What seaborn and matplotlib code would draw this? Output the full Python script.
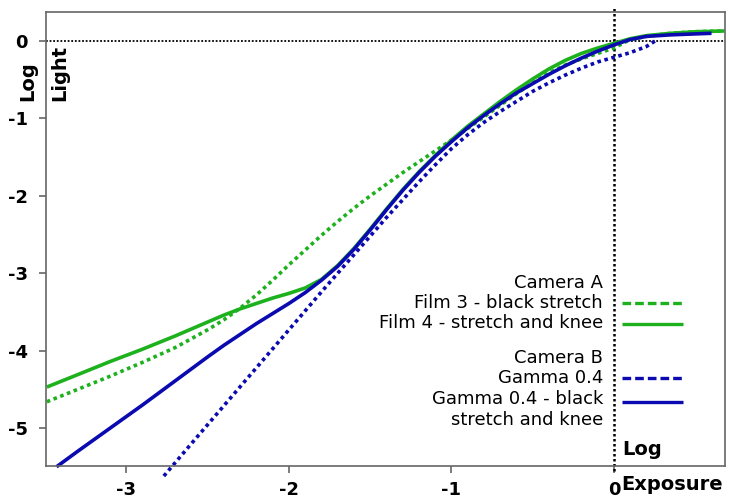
import matplotlib
matplotlib.use("Agg")
import matplotlib.pyplot as plt
import seaborn as sns
import pandas as pd

# ---- data ----
film3_x = [-3.49, -3.3, -3.1, -2.9, -2.7, -2.5, -2.4, -2.3, -2.2, -2.1, -2.0, -1.9, -1.8, -1.7, -1.6, -1.5, -1.4, -1.3, -1.2, -1.1, -1.0,
           -0.9, -0.8, -0.7, -0.6, -0.5, -0.4, -0.3, -0.2, -0.1, 0.0, 0.1, 0.2, 0.35, 0.5, 0.68]
film3_y = [-4.66, -4.50, -4.33, -4.15, -3.96, -3.73, -3.60, -3.45, -3.28, -3.09, -2.89, -2.70, -2.51, -2.33, -2.16, -2.00, -1.85, -1.70, -1.56, -1.42, -1.28,
           -1.13, -0.98, -0.83, -0.68, -0.54, -0.41, -0.31, -0.23, -0.16, -0.09, 0.02, 0.06, 0.10, 0.12, 0.13]

film4_x = [-3.49, -3.3, -3.1, -2.9, -2.7, -2.5, -2.4, -2.3, -2.2, -2.1, -2.0, -1.9, -1.8, -1.7, -1.6, -1.5, -1.4, -1.3, -1.2, -1.1, -1.0,
           -0.9, -0.8, -0.7, -0.6, -0.5, -0.4, -0.3, -0.2, -0.1, 0.0, 0.1, 0.2, 0.35, 0.5, 0.68]
film4_y = [-4.47, -4.31, -4.14, -3.98, -3.81, -3.63, -3.54, -3.46, -3.39, -3.32, -3.26, -3.19, -3.08, -2.90, -2.68, -2.43, -2.17, -1.92, -1.69, -1.48, -1.28,
           -1.10, -0.94, -0.78, -0.63, -0.49, -0.36, -0.25, -0.16, -0.09, -0.03, 0.03, 0.07, 0.10, 0.12, 0.13]

gamma_x = [-2.77, -2.6, -2.4, -2.2, -2.0, -1.8, -1.6, -1.4, -1.3, -1.2, -1.1, -1.0, -0.9, -0.8, -0.7, -0.6, -0.5, -0.4, -0.3, -0.2, -0.1,
           0.0, 0.1, 0.2, 0.26]
gamma_y = [-5.62, -5.20, -4.71, -4.22, -3.73, -3.24, -2.76, -2.28, -2.05, -1.82, -1.60, -1.39, -1.21, -1.05, -0.91, -0.78, -0.65, -0.54, -0.44, -0.35, -0.27,
           -0.21, -0.15, -0.07, 0.01]

gknee_x = [-3.43, -3.3, -3.1, -2.9, -2.7, -2.5, -2.4, -2.3, -2.2, -2.1, -2.0, -1.9, -1.8, -1.7, -1.6, -1.5, -1.4, -1.3, -1.2, -1.1, -1.0,
           -0.9, -0.8, -0.7, -0.6, -0.5, -0.4, -0.3, -0.2, -0.1, 0.0, 0.1, 0.2, 0.35, 0.6]
gknee_y = [-5.50, -5.30, -5.00, -4.70, -4.39, -4.08, -3.93, -3.79, -3.65, -3.52, -3.39, -3.25, -3.09, -2.91, -2.69, -2.44, -2.18, -1.93, -1.70, -1.49, -1.30,
           -1.12, -0.96, -0.81, -0.67, -0.55, -0.43, -0.32, -0.22, -0.13, -0.05, 0.02, 0.06, 0.08, 0.10]

x_ticks = [-3, -2, -1, 0]
y_ticks = [0, -1, -2, -3, -4, -5]

legend_a = ["Camera A", "Film 3 - black stretch", "Film 4 - stretch and knee"]
legend_b = ["Camera B", "Gamma 0.4", "Gamma 0.4 - black", "stretch and knee"]

GREEN = "#1db11d"
BLUE = "#0a0ab0"

sns.set_style("white")
plt.rcParams['font.family'] = ['DejaVu Sans']
plt.rcParams['text.color'] = 'black'

W, H = 730, 500
fig = plt.figure(figsize=(7.3, 5.0), dpi=100)
ax = fig.add_axes([46 / W, 1 - 466 / H, (725 - 46) / W, (466 - 12) / H])

dot = (0, (1, 1))
series = [
    (film3_x, film3_y, GREEN, dot),
    (film4_x, film4_y, GREEN, '-'),
    (gamma_x, gamma_y, BLUE, dot),
    (gknee_x, gknee_y, BLUE, '-'),
]
for xs, ys, c, ls in series:
    df = pd.DataFrame({"x": xs, "y": ys})
    sns.lineplot(data=df, x="x", y="y", ax=ax, color=c, linestyle=ls,
                 linewidth=2.6, sort=False, estimator=None, clip_on=False,
                 dash_capstyle='butt', solid_capstyle='butt', solid_joinstyle='round')

ax.set_xlim(-3.495, 0.683)
ax.set_ylim(-5.49, 0.375)

# reference dotted lines
ax.plot([-3.495, 0.683], [0, 0], color='black', lw=1.3, ls=(0, (1, 1)), zorder=1)
ax.plot([0, 0], [-5.556, 0.452], color='black', lw=1.8, ls=(0, (1, 1)), clip_on=False, zorder=1)

ax.set_xticks(x_ticks)
ax.set_xticklabels([str(v) for v in x_ticks])
ax.set_yticks(y_ticks)
ax.set_yticklabels([str(v) for v in y_ticks])
ax.tick_params(axis='both', direction='out', length=5, width=1.2, color='#666666',
               labelsize=13, labelcolor='black', bottom=True, left=True)
ax.tick_params(axis='x', pad=6)
ax.tick_params(axis='y', pad=8)
for lbl in ax.get_xticklabels() + ax.get_yticklabels():
    lbl.set_fontweight('bold')
ax.set_xlabel("")
ax.set_ylabel("")
for s in ax.spines.values():
    s.set_color('#666666')
    s.set_linewidth(1.2)
ax.grid(False)

def fx(px):
    return px / W

def fy(py):
    return 1 - py / H

# axis titles
fig.text(fx(28), fy(101), "Log", rotation=90, ha='center', va='bottom', fontsize=14, fontweight='bold')
fig.text(fx(60), fy(101), "Light", rotation=90, ha='center', va='bottom', fontsize=14, fontweight='bold')
fig.text(fx(622), fy(455), "Log", ha='left', va='baseline', fontsize=14, fontweight='bold')
fig.text(fx(621), fy(490), "Exposure", ha='left', va='baseline', fontsize=14, fontweight='bold')

# legend
rows_a = [283, 303, 323]
rows_b = [358, 378, 399, 420]
for t, y in zip(legend_a, rows_a):
    fig.text(fx(603), fy(y), t, ha='right', va='center', fontsize=13)
for t, y in zip(legend_b, rows_b):
    fig.text(fx(603), fy(y), t, ha='right', va='center', fontsize=13)

samples = [(303, GREEN, (0, (2.6, 1.2))), (324, GREEN, '-'), (378, BLUE, (0, (2.6, 1.2))), (402, BLUE, '-')]
for y, c, ls in samples:
    fig.add_artist(plt.Line2D([fx(622), fx(683)], [fy(y), fy(y)], color=c, lw=2.4, ls=ls,
                              dash_capstyle='butt', solid_capstyle='butt'))

fig.savefig("out.png", dpi=100)
